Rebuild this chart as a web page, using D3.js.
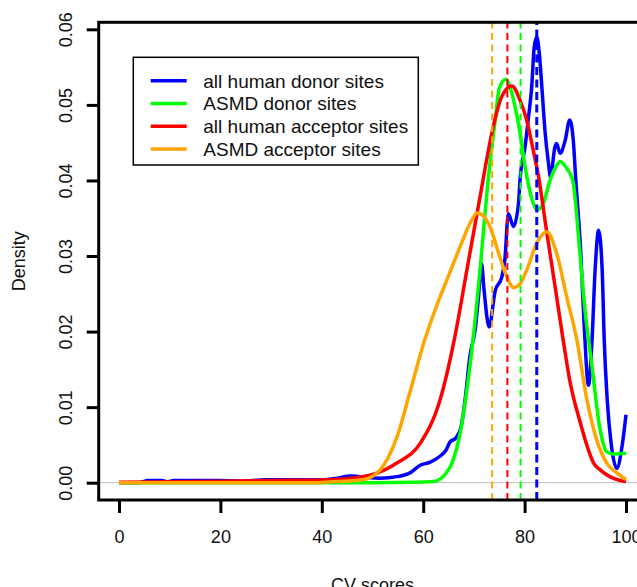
<!DOCTYPE html>
<html><head><meta charset="utf-8">
<script src="https://cdn.jsdelivr.net/npm/d3@7"></script>
<style>html,body{margin:0;padding:0;background:#fff;overflow:hidden}</style>
</head><body>
<svg id="chart" width="637" height="587"></svg>
<script>
// ---------- data ----------
const xTicks = [0, 20, 40, 60, 80, 100];
const yTicks = [0, 0.01, 0.02, 0.03, 0.04, 0.05, 0.06];
const yTickLabels = ["0.00", "0.01", "0.02", "0.03", "0.04", "0.05", "0.06"];
const seriesNames = ["all human donor sites", "ASMD donor sites", "all human acceptor sites", "ASMD acceptor sites"];
const seriesColors = ["#0000ff", "#00ff00", "#ff0000", "#ffa500"];
const xLabel = "CV scores";
const yLabel = "Density";

// density curves: [CV score, density]
const humanDonor = [[0,0],[4,0],[5.7,0.0003],[8.5,0.0003],[9.5,0.0001],[10.8,0.0003],[20,0.0003],[24,0.0002],[29,0.0004],[40,0.0004],[43,0.0006],[45.6,0.0009],[47.5,0.0008],[51.5,0.0006],[54.8,0.0008],[57.4,0.0013],[59.4,0.0023],[61.3,0.0027],[63.3,0.0035],[64.5,0.0043],[65.3,0.0054],[66.4,0.0059],[67.4,0.0072],[68.3,0.0112],[69.2,0.0167],[70.3,0.0205],[70.9,0.0246],[71.5,0.0290],[72.0,0.0255],[73.0,0.0206],[74.2,0.0254],[75.5,0.0272],[76.1,0.0295],[76.8,0.0356],[77.8,0.0339],[78.8,0.0370],[79.1,0.0401],[80.1,0.0445],[80.7,0.0480],[81.4,0.0524],[81.9,0.0577],[82.4,0.0590],[82.9,0.0568],[83.4,0.0524],[84.0,0.0467],[84.7,0.0423],[85.1,0.0405],[86.0,0.0445],[86.3,0.0449],[87.0,0.0436],[88.0,0.0453],[88.9,0.0480],[89.6,0.0453],[90.1,0.0400],[91.0,0.0314],[91.7,0.0215],[92.6,0.0129],[93.3,0.0189],[93.9,0.0281],[94.6,0.0334],[95.3,0.0281],[95.7,0.0189],[96.3,0.0109],[97.1,0.0050],[98.2,0.0019],[99.1,0.0043],[100,0.0090]];
const asmdDonor = [[0,0],[50,0],[58,0.00005],[61.9,0.00015],[63.9,0.0008],[65.9,0.0030],[67.3,0.0066],[68.6,0.0122],[69.6,0.0176],[71.2,0.0281],[72.8,0.0400],[74.2,0.0480],[75.0,0.0522],[76.3,0.0534],[77.1,0.0524],[78.1,0.0498],[79.1,0.0463],[80.1,0.0418],[81.7,0.0370],[82.4,0.0361],[83.7,0.0370],[85.0,0.0400],[86.0,0.0416],[87.0,0.0425],[88.3,0.0416],[89.5,0.0400],[90.9,0.0304],[91.9,0.0229],[93.2,0.0159],[94.9,0.0070],[96.2,0.0041],[97.4,0.0038],[100,0.0039]];
const humanAcceptor = [[0,0.00005],[20,0.0002],[30,0.0003],[41.6,0.0004],[49.5,0.0010],[54.8,0.0026],[59.4,0.0052],[63.3,0.0109],[66.3,0.0195],[68.6,0.0281],[71.2,0.0378],[73.8,0.0471],[75.5,0.0511],[77.5,0.0525],[79.1,0.0506],[80.4,0.0480],[81.7,0.0440],[82.7,0.0407],[84.4,0.0330],[86.0,0.0260],[87.6,0.0189],[89.0,0.0132],[91.0,0.0079],[92.5,0.0045],[93.6,0.0026],[94.9,0.0017],[96.8,0.0008],[98.8,0.0003],[100,0.00016]];
const asmdAcceptor = [[0,0],[38,0],[41.6,0.0001],[48.1,0.0004],[51.5,0.0017],[54.8,0.0060],[57.4,0.0120],[60.1,0.0185],[62.7,0.0235],[65.3,0.0279],[67.8,0.0321],[69.2,0.0343],[70.7,0.0357],[72.0,0.0352],[73.2,0.0338],[75.1,0.0299],[76.5,0.0272],[77.8,0.0258],[79.1,0.0263],[80.4,0.0281],[82.4,0.0317],[84.4,0.0332],[86.3,0.0304],[88.3,0.0246],[90.3,0.0189],[92.2,0.0113],[94.2,0.0057],[96.2,0.0026],[98.2,0.0013],[100,0.0004]];
// vertical dashed reference lines (same order as series)
const refLines = [82.4, 79.2, 76.6, 73.6];

// ---------- drawing ----------
const FONT = "'Liberation Sans', Arial, Helvetica, sans-serif";
const svg = d3.select("#chart");
const x = d3.scaleLinear().domain([-4, 104]).range([98.7, 646.3]);
const y = d3.scaleLinear().domain([-0.00229, 0.06093]).range([500, 22.3]);
const [x0, x1] = x.range();
const [yb, yt] = y.range();

const series = [humanDonor, asmdDonor, humanAcceptor, asmdAcceptor];
const line = d3.line().x(d => x(d[0])).y(d => y(d[1])).curve(d3.curveMonotoneX);

const plot = svg.append("g");
// first curve
plot.append("path").datum(series[0]).attr("d", line)
  .attr("fill", "none").attr("stroke", seriesColors[0]).attr("stroke-width", 3.5)
  .attr("stroke-linejoin", "round");
// zero line
plot.append("line").attr("x1", x0).attr("x2", 700).attr("y1", y(0)).attr("y2", y(0))
  .attr("stroke", "#bebebe").attr("stroke-width", 1);
// remaining curves
for (let i = 1; i < series.length; i++) {
  plot.append("path").datum(series[i]).attr("d", line)
    .attr("fill", "none").attr("stroke", seriesColors[i]).attr("stroke-width", 3.5)
    .attr("stroke-linejoin", "round");
}
// dashed reference lines
refLines.forEach((v, i) => {
  plot.append("line").attr("x1", x(v)).attr("x2", x(v)).attr("y1", yb).attr("y2", yt)
    .attr("stroke", seriesColors[i]).attr("stroke-width", i === 0 ? 3 : 2)
    .attr("stroke-dasharray", i === 0 ? "8,4.5" : "7,4.5");
});

// box
svg.append("rect").attr("x", x0).attr("y", yt).attr("width", x1 - x0).attr("height", yb - yt)
  .attr("fill", "none").attr("stroke", "#000").attr("stroke-width", 3);

// axes
const xAxis = d3.axisBottom(x).tickValues(xTicks).tickSize(13).tickPadding(17).tickFormat(d3.format("d"));
const gx = svg.append("g").attr("transform", `translate(0,${yb})`).call(xAxis);
gx.select(".domain").remove();
gx.selectAll(".tick line").attr("stroke", "#000").attr("stroke-width", 3);
gx.selectAll(".tick text").attr("font-family", FONT).attr("font-size", 18).attr("fill", "#111")
  .attr("dy", null).attr("y", 42.7);

const yAxis = d3.axisLeft(y).tickValues(yTicks).tickSize(12).tickFormat((d, i) => yTickLabels[i]);
const gy = svg.append("g").attr("transform", `translate(${x0},0)`).call(yAxis);
gy.select(".domain").remove();
gy.selectAll(".tick line").attr("stroke", "#000").attr("stroke-width", 3);
gy.selectAll(".tick text").attr("font-family", FONT).attr("font-size", 18).attr("fill", "#111")
  .attr("x", null).attr("dy", null).attr("text-anchor", "middle")
  .attr("transform", "translate(-27,0) rotate(-90)");

// axis titles
svg.append("text").attr("x", (x0 + x1) / 2).attr("y", 590.5).attr("text-anchor", "middle")
  .attr("font-family", FONT).attr("font-size", 18).attr("fill", "#111").text(xLabel);
svg.append("text").attr("transform", `translate(25,${(yb + yt) / 2}) rotate(-90)`)
  .attr("text-anchor", "middle").attr("font-family", FONT).attr("font-size", 18).attr("fill", "#111").text(yLabel);

// legend
const lg = svg.append("g");
lg.append("rect").attr("x", 133.3).attr("y", 57.3).attr("width", 285).attr("height", 107.7)
  .attr("fill", "#fff").attr("stroke", "#000").attr("stroke-width", 1.5);
seriesNames.forEach((name, i) => {
  const ry = 80.7 + i * 22.8;
  lg.append("line").attr("x1", 150.7).attr("x2", 186.7).attr("y1", ry).attr("y2", ry)
    .attr("stroke", seriesColors[i]).attr("stroke-width", 3.5);
  lg.append("text").attr("x", 203.3).attr("y", ry + 6.8).attr("font-family", FONT)
    .attr("font-size", 19).attr("fill", "#111").text(name);
});
</script>
</body></html>
